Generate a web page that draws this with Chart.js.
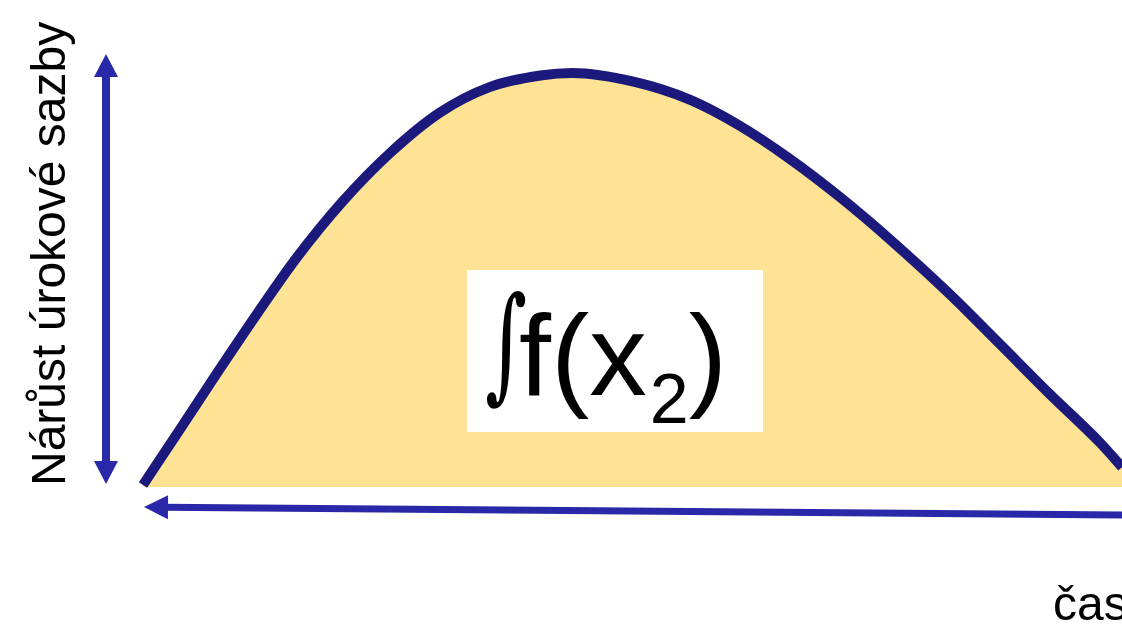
<!DOCTYPE html>
<html lang="cs">
<head>
  <meta charset="UTF-8">
  <title>Nárůst úrokové sazby</title>
  <script src="https://cdn.jsdelivr.net/npm/chart.js"></script>
  <style>
    body { margin: 0; background: #fff; }
    .wrap { position: relative; width: 1122px; height: 626px; }
  </style>
</head>
<body>
<div class="wrap"><canvas id="curve"></canvas></div>

<script>
  // time (0 = start, 100 = right edge) and rate growth (100 = peak)
  const timeValues = [0, 3.8, 7.7, 11.7, 15.7, 20.4, 25.2, 30.3, 35.4, 40.6, 43.9, 50.1, 55.9, 61.0, 66.1, 71.2, 76.3, 82.4, 87.5, 92.6, 97.8, 100];
  const rateValues = [0.5, 14.0, 28.0, 42.0, 55.4, 69.0, 80.6, 90.4, 96.6, 99.4, 100, 97.9, 93.5, 87.2, 79.2, 70.0, 59.8, 46.6, 34.6, 22.5, 10.6, 4.8];
  const yTitle = 'Nárůst úrokové sazby';
  const xTitle = 'čas';

  const arrowBlue = '#2828a8';

  function arrowHead(ctx, tx, ty, angle, len, half) {
    ctx.save();
    ctx.translate(tx, ty);
    ctx.rotate(angle);
    ctx.beginPath();
    ctx.moveTo(0, 0);
    ctx.lineTo(-len, -half);
    ctx.lineTo(-len, half);
    ctx.closePath();
    ctx.fill();
    ctx.restore();
  }

  const decorations = {
    id: 'decorations',
    afterDatasetsDraw(chart) {
      const ctx = chart.ctx;
      const a = chart.chartArea;
      const y0 = chart.scales.y.getPixelForValue(0);
      ctx.save();

      // vertical double arrow
      const vx = a.left - 37;
      const vTop = a.top - 19, vBot = y0 - 3;
      ctx.strokeStyle = arrowBlue;
      ctx.fillStyle = arrowBlue;
      ctx.lineWidth = 8;
      ctx.beginPath();
      ctx.moveTo(vx, vTop + 20);
      ctx.lineTo(vx, vBot - 20);
      ctx.stroke();
      arrowHead(ctx, vx, vTop, -Math.PI / 2, 23, 12);
      arrowHead(ctx, vx, vBot, Math.PI / 2, 23, 12);

      // horizontal arrow pointing left, slightly sloped
      const hx1 = a.left + 1, hy1 = y0 + 20;
      const hx2 = a.right, hy2 = y0 + 28;
      const ang = Math.atan2(hy1 - hy2, hx1 - hx2);
      ctx.lineWidth = 7;
      ctx.beginPath();
      ctx.moveTo(hx1 + 20 * Math.cos(ang + Math.PI), hy1 + 20 * Math.sin(ang + Math.PI));
      ctx.lineTo(hx2, hy2);
      ctx.stroke();
      arrowHead(ctx, hx1, hy1, ang, 24, 12);

      // axis titles
      ctx.fillStyle = '#000';
      ctx.font = '48px "Liberation Sans", Arial, sans-serif';
      ctx.textAlign = 'left';
      ctx.textBaseline = 'alphabetic';
      ctx.save();
      ctx.translate(a.left - 78, y0 - 1);
      ctx.rotate(-Math.PI / 2);
      ctx.fillText(yTitle, 0, 0);
      ctx.restore();
      ctx.fillText(xTitle, a.right - 69, y0 + 133);

      // white label box with integral
      const bx = a.left + 324, by = a.top + 197;
      ctx.fillStyle = '#fff';
      ctx.fillRect(bx, by, 296, 162);
      ctx.fillStyle = '#000';
      ctx.save();
      ctx.translate(bx + 18, by + 116);
      ctx.scale(0.72, 1.12);
      ctx.font = '112px "DejaVu Serif", serif';
      ctx.fillText('∫', 0, 0);
      ctx.restore();
      ctx.font = '115px "Liberation Sans", Arial, sans-serif';
      const base = by + 125;
      let x = bx + 52;
      ctx.fillText('f(x', x, base);
      x += ctx.measureText('f(x').width;
      ctx.font = '70px "Liberation Sans", Arial, sans-serif';
      ctx.fillText('2', x + 3, base + 28);
      x += ctx.measureText('2').width + 3;
      ctx.font = '115px "Liberation Sans", Arial, sans-serif';
      ctx.fillText(')', x, base);

      ctx.restore();
    }
  };

  new Chart(document.getElementById('curve'), {
    type: 'line',
    data: {
      labels: timeValues,
      datasets: [{
        data: timeValues.map((t, i) => ({ x: t, y: rateValues[i] })),
        borderColor: '#1b1a7c',
        borderWidth: 10,
        backgroundColor: '#fee395',
        fill: 'origin',
        pointRadius: 0,
        cubicInterpolationMode: 'monotone',
        clip: false
      }]
    },
    options: {
      responsive: true,
      maintainAspectRatio: false,
      animation: false,
      layout: { padding: { left: 143, right: 0, top: 73, bottom: 139 } },
      plugins: { legend: { display: false }, tooltip: { enabled: false } },
      scales: {
        x: { type: 'linear', min: 0, max: 100, display: false },
        y: { min: 0, max: 100, display: false }
      }
    },
    plugins: [decorations]
  });
</script>
</body>
</html>
